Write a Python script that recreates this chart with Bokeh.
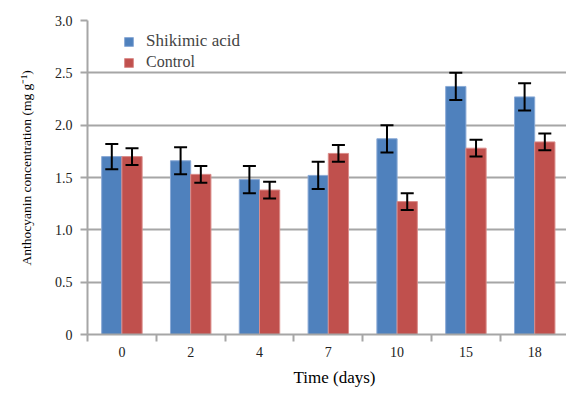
import numpy as np
from bokeh.plotting import figure
from bokeh.models import (ColumnDataSource, FixedTicker, Whisker, TeeHead, Legend,
                          LegendItem, Title, NumeralTickFormatter)
from bokeh.embed import file_html
from bokeh.resources import INLINE

days = ["0", "2", "4", "7", "10", "15", "18"]
shikimic = [1.70, 1.66, 1.48, 1.52, 1.87, 2.37, 2.27]
shikimic_err = [0.12, 0.13, 0.13, 0.13, 0.13, 0.13, 0.13]
control = [1.70, 1.53, 1.38, 1.73, 1.27, 1.78, 1.84]
control_err = [0.08, 0.08, 0.08, 0.08, 0.08, 0.08, 0.08]
y_ticks = [0, 0.5, 1.0, 1.5, 2.0, 2.5, 3.0]

FONT = "'Liberation Serif', 'Times New Roman', serif"
BLUE = "#4F81BD"
RED = "#C0504D"
GRID = "#A6A6A6"

idx = np.arange(len(days))
off = 0.147
bw = 0.294

src_s = ColumnDataSource(dict(x=idx - off, top=shikimic,
                              lo=np.array(shikimic) - np.array(shikimic_err),
                              hi=np.array(shikimic) + np.array(shikimic_err)))
src_c = ColumnDataSource(dict(x=idx + off, top=control,
                              lo=np.array(control) - np.array(control_err),
                              hi=np.array(control) + np.array(control_err)))

p = figure(width=566, height=396, output_backend="svg", toolbar_location=None,
           x_range=(-0.5, 6.462), y_range=(0, 3.0),
           min_border_left=87, min_border_right=0, min_border_top=20, min_border_bottom=62)
p.outline_line_color = None
p.background_fill_color = "white"

r1 = p.vbar(x="x", top="top", width=bw, source=src_s, fill_color=BLUE,
            line_color="#8AAAD6", line_width=1)
r2 = p.vbar(x="x", top="top", width=bw, source=src_c, fill_color=RED,
            line_color="#DA8C8A", line_width=1)

for src in (src_s, src_c):
    w = Whisker(base="x", upper="hi", lower="lo", source=src, level="overlay",
                line_color="black", line_width=2,
                upper_head=TeeHead(size=13, line_width=2, line_color="black"),
                lower_head=TeeHead(size=13, line_width=2, line_color="black"))
    p.add_layout(w)

# x axis
p.xaxis.ticker = FixedTicker(ticks=list(idx.astype(float)),
                             minor_ticks=list((np.arange(len(days) + 1) - 0.5).astype(float)))
p.xaxis.major_label_overrides = {float(i): d for i, d in zip(idx, days)}
p.xaxis.major_tick_line_color = None
p.xaxis.major_tick_out = 0
p.xaxis.minor_tick_line_color = GRID
p.xaxis.minor_tick_line_width = 2
p.xaxis.minor_tick_out = 7
p.xaxis.minor_tick_in = 0
p.xaxis.axis_line_color = GRID
p.xaxis.axis_line_width = 2
p.xaxis.major_label_text_font = FONT
p.xaxis.major_label_text_font_size = "14px"
p.xaxis.major_label_text_color = "#222222"
p.xaxis.major_label_standoff = 5
p.xgrid.grid_line_color = None

# y axis
p.yaxis.ticker = FixedTicker(ticks=y_ticks, minor_ticks=[])
p.yaxis.formatter = NumeralTickFormatter(format="0.0")
p.yaxis.major_label_overrides = {0: "0"}
p.yaxis.major_tick_line_color = GRID
p.yaxis.major_tick_line_width = 2
p.yaxis.major_tick_out = 7
p.yaxis.major_tick_in = 0
p.yaxis.minor_tick_line_color = None
p.yaxis.axis_line_color = GRID
p.yaxis.axis_line_width = 2
p.yaxis.major_label_text_font = FONT
p.yaxis.major_label_text_font_size = "14px"
p.yaxis.major_label_text_color = "#222222"
p.yaxis.major_label_standoff = 8
p.ygrid.grid_line_color = GRID
p.ygrid.grid_line_width = 2

# axis titles
p.add_layout(Title(text="Anthocyanin concentration (mg g\u207b\u00b9)", align="left",
                   vertical_align="middle", offset=69, standoff=33,
                   text_font=FONT, text_font_size="13.5px",
                   text_font_style="normal", text_color="black"), "left")
p.add_layout(Title(text="Time (days)", align="left", offset=206, standoff=13,
                   text_font=FONT, text_font_size="17px",
                   text_font_style="normal", text_color="black"), "below")

# legends
leg1 = Legend(items=[LegendItem(label="Shikimic acid", renderers=[r1])],
              location=(36, 283), glyph_width=11, glyph_height=11,
              label_text_font=FONT, label_text_font_size="17px",
              background_fill_alpha=0, border_line_color=None,
              padding=0, margin=0, label_standoff=12, spacing=0)
leg2 = Legend(items=[LegendItem(label="Control", renderers=[r2])],
              location=(36, 263), glyph_width=11, glyph_height=11,
              label_text_font=FONT, label_text_font_size="16px",
              background_fill_alpha=0, border_line_color=None,
              padding=0, margin=0, label_standoff=12, spacing=0)
p.add_layout(leg1)
p.add_layout(leg2)

open("out.html", "w").write(file_html(p, INLINE))
